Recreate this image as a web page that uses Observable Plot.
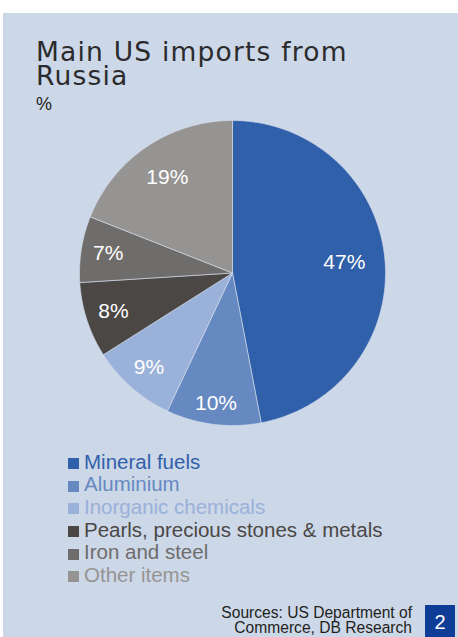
<!DOCTYPE html>
<html>
<head>
<meta charset="utf-8">
<script src="https://cdn.jsdelivr.net/npm/d3@7"></script>
<script src="https://cdn.jsdelivr.net/npm/@observablehq/plot@0.6"></script>
<style>
  html, body { margin: 0; padding: 0; background: #ffffff; }
  #page { position: relative; width: 458px; height: 637px; overflow: hidden; background: #ffffff; }
  #panel { position: absolute; left: 3px; top: 13px; right: 0; bottom: 0; background: #ccd7e8; }
  #chart { position: absolute; left: 0; top: 0; }
  .title { position: absolute; left: 36px; font-family: "DejaVu Sans", sans-serif; font-weight: 400; font-size: 26.5px; letter-spacing: 1.2px; line-height: 23px; color: #2b2b2d; white-space: nowrap; }
  .subtitle { position: absolute; left: 36px; top: 94.8px; font-family: "Liberation Sans", Arial, sans-serif; font-size: 18px; line-height: 18px; color: #231f20; }
  #legend { position: absolute; left: 68px; top: 450.9px; font-family: "Liberation Sans", Arial, sans-serif; font-size: 20.5px; line-height: 22.6px; }
  .row { position: relative; height: 22.6px; padding-left: 16px; white-space: nowrap; }
  .sw { position: absolute; left: 0; top: 7.4px; width: 11px; height: 11px; }
  .source { position: absolute; right: 46px; font-family: "Liberation Sans", Arial, sans-serif; font-size: 15.6px; line-height: 14px; color: #231f20; text-align: right; white-space: nowrap; }
  .pagebox { position: absolute; left: 425px; top: 605px; width: 30px; height: 40px; background: #0f3c96; }
  .pagenum { position: absolute; left: 425px; top: 612px; width: 30px; text-align: center; font-family: "Liberation Sans", Arial, sans-serif; font-size: 20px; line-height: 20px; color: #ffffff; }
</style>
</head>
<body>
<div id="page">
  <div id="panel"></div>
  <div id="chart"></div>
  <div class="title" style="top:40.3px">Main US imports from</div>
  <div class="title" style="top:64.3px">Russia</div>
  <div class="subtitle">%</div>
  <div id="legend"></div>
  <div class="source" style="top:605.7px">Sources: US Department of</div>
  <div class="source" style="top:620.7px">Commerce, DB Research</div>
  <div class="pagebox"></div>
  <div class="pagenum">2</div>
</div>
<script>
// ---- Data ----
const categories = ["Mineral fuels", "Aluminium", "Inorganic chemicals", "Pearls, precious stones & metals", "Iron and steel", "Other items"];
const values = [47, 10, 9, 8, 7, 19];
const colors = ["#3160aa", "#6689c1", "#9ab1d9", "#4b4745", "#6f6d6b", "#969492"];

// ---- Build slices (clockwise from 12 o'clock) ----
const total = d3.sum(values);
let cum = 0;
const slices = categories.map((c, i) => {
  const a0 = cum / total * 2 * Math.PI;
  cum += values[i];
  const a1 = cum / total * 2 * Math.PI;
  return { cat: c, value: values[i], a0, a1, mid: (a0 + a1) / 2 };
});
const outline = [];
for (const s of slices) {
  outline.push({ cat: s.cat, x: 0, y: 0 });
  const n = Math.max(2, Math.ceil((s.a1 - s.a0) / (Math.PI / 360)));
  for (let k = 0; k <= n; k++) {
    const a = s.a0 + (s.a1 - s.a0) * k / n;
    outline.push({ cat: s.cat, x: Math.sin(a), y: Math.cos(a) });
  }
  outline.push({ cat: s.cat, x: 0, y: 0 });
}

// label placement: inside-end, inset by label half-extent (radius in px = 153)
const R = 153, fs = 21;
function labelRadius(d) {
  const w = (String(d.value).length * 0.556 + 0.889) * fs;
  const h = 15;
  const extent = Math.abs(Math.sin(d.mid)) * w / 2 + Math.abs(Math.cos(d.mid)) * h / 2;
  const pad = d.value >= 15 ? 19 : 11;
  return (R - pad - extent) / R;
}

const chart = Plot.plot({
  width: 458,
  height: 637,
  marginLeft: 79,
  marginRight: 73,
  marginTop: 120,
  marginBottom: 212,
  style: { background: "transparent", overflow: "visible" },
  x: { domain: [-1, 1], axis: null },
  y: { domain: [-1, 1], axis: null },
  color: { type: "ordinal", domain: categories, range: colors },
  marks: [
    Plot.line(outline, { x: "x", y: "y", z: "cat", fill: "cat", stroke: "#d8e0ee", strokeWidth: 0.6, strokeLinejoin: "round" }),
    Plot.text(slices, {
      x: d => labelRadius(d) * Math.sin(d.mid),
      y: d => labelRadius(d) * Math.cos(d.mid),
      text: d => d.value + "%",
      fill: "white",
      fontSize: fs,
      fontFamily: "Liberation Sans, Arial, sans-serif"
    })
  ]
});
document.getElementById("chart").appendChild(chart);

// ---- Legend ----
const legend = document.getElementById("legend");
categories.forEach((c, i) => {
  const row = document.createElement("div");
  row.className = "row";
  row.style.color = colors[i];
  const sw = document.createElement("span");
  sw.className = "sw";
  sw.style.background = colors[i];
  row.appendChild(sw);
  row.appendChild(document.createTextNode(c));
  legend.appendChild(row);
});
</script>
</body>
</html>
